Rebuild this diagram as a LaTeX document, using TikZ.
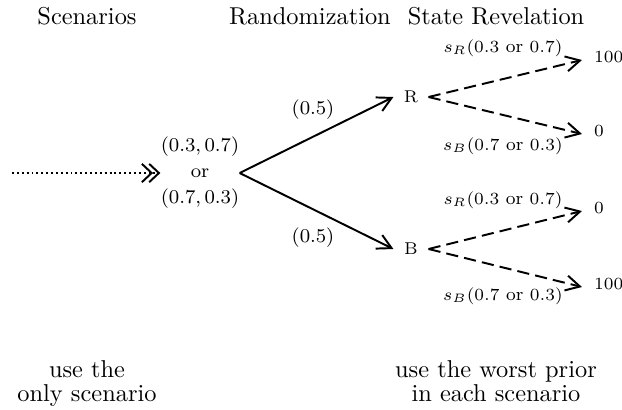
\documentclass[tikz,border=0pt]{standalone}
\usetikzlibrary{arrows.meta}
\begin{document}
\begin{tikzpicture}[x=0.41pt,y=-0.41pt,
  title/.style={font=\fontsize{10}{9.6}\selectfont,align=center,inner sep=0pt},
  lbl/.style={font=\footnotesize,inner sep=0pt,anchor=base},
  slbl/.style={font=\fontsize{7.5}{9}\selectfont,inner sep=0pt,anchor=base},
  leaf/.style={font=\scriptsize,inner ysep=0pt,inner xsep=4.8pt,anchor=west,text height=4.6pt,text depth=2.4pt},
  st/.style={font=\scriptsize,inner sep=0pt,minimum width=14pt,minimum height=8pt},
  barb/.style={-{Straight Barb[length=5.8pt,width=6.2pt]}},
  solidarr/.style={line width=0.8pt,barb},
  dasharr/.style={line width=0.8pt,barb,dash pattern=on 5pt off 2.5pt},
  dotarr/.style={line width=0.8pt,dash pattern=on 0.8pt off 1.2pt,
     -{Straight Barb[length=4pt,width=7.5pt,sep=-2pt] Straight Barb[length=4pt,width=7.5pt]}}]
\useasboundingbox (0,0) rectangle (622,409);
% titles
\node[title,anchor=base] (t1) at (87,24) {Scenarios};
\node[title,anchor=base] (t2) at (310,24) {Randomization};
\node[title,anchor=base] (t3) at (496,24) {State Revelation};
% bottom notes
\node[title,anchor=base] (b1) at (87,401) {use the\\only scenario};
\node[title,anchor=base] (b2) at (496,401) {use the worst prior\\in each scenario};
% scenario node
\node[font={\fontsize{8}{10.7}\selectfont},align=center,inner sep=0pt] (mid) at (200,173)
  {$(0.3,0.7)$\\or\\$(0.7,0.3)$};
\coordinate (start) at (12,173);
\draw[dotarr] (start) -- (mid.west);
% state nodes
\node[st] (R) at (411,97) {R};
\node[st] (B) at (411,249) {B};
\draw[solidarr] (mid.east) -- (R.west);
\draw[solidarr] (mid.east) -- (B.west);
\node[lbl] (p1) at (313,114) {$(0.5)$};
\node[lbl] (p2) at (313,242) {$(0.5)$};
% leaves
\node[leaf] (r100) at (582,60) {100};
\node[leaf] (r0) at (582,134) {0};
\node[leaf] (b0) at (582,211) {0};
\node[leaf] (b100) at (582,287) {100};
\draw[dasharr] (R.east) -- (r100.west);
\draw[dasharr] (R.east) -- (r0.west);
\draw[dasharr] (B.east) -- (b0.west);
\draw[dasharr] (B.east) -- (b100.west);
\node[slbl] (l1) at (503,52) {$s_R(0.3\mbox{ or }0.7)$};
\node[slbl] (l2) at (503,150) {$s_B(0.7\mbox{ or }0.3)$};
\node[slbl] (l3) at (503,204) {$s_R(0.3\mbox{ or }0.7)$};
\node[slbl] (l4) at (503,300) {$s_B(0.7\mbox{ or }0.3)$};
\end{tikzpicture}
\end{document}
